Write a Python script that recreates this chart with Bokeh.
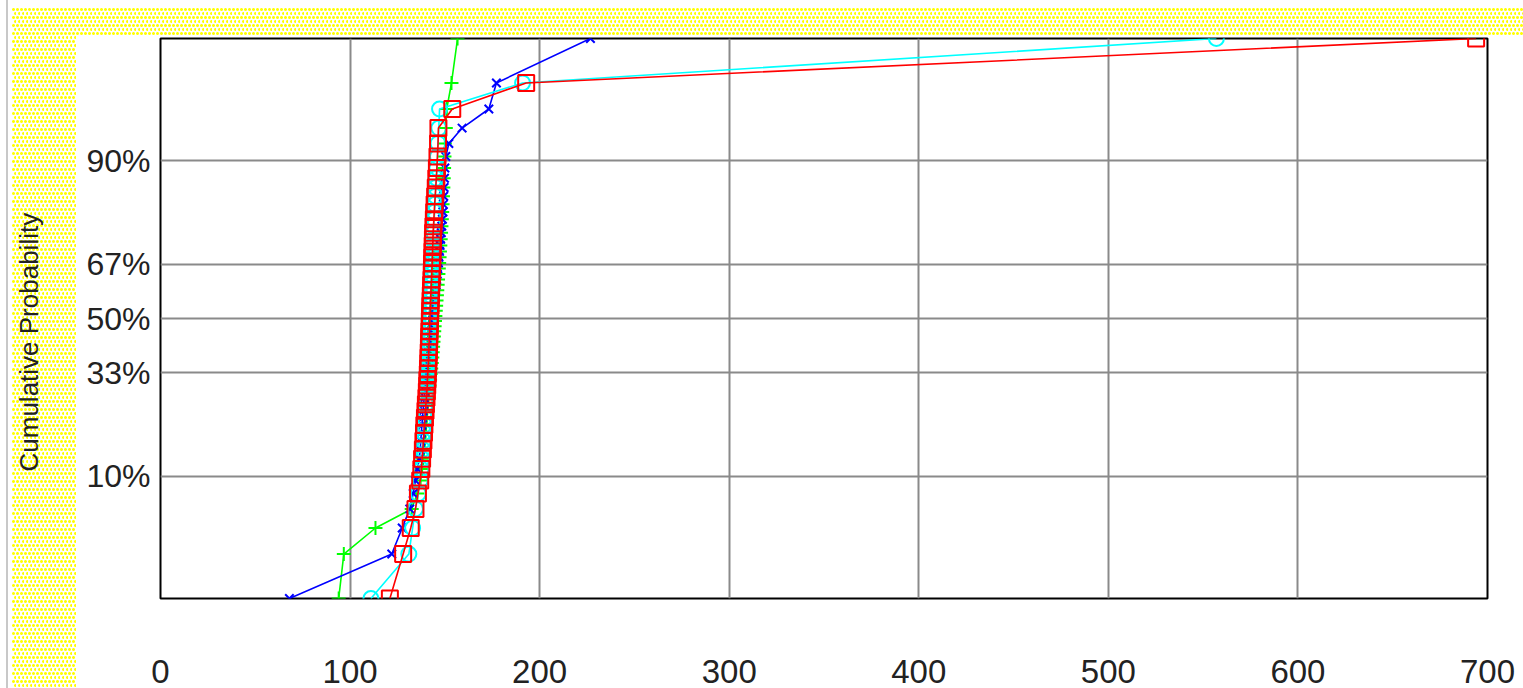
from statistics import NormalDist
from bokeh.plotting import figure
from bokeh.models import Range1d, FixedTicker, Title
from bokeh.embed import file_html
from bokeh.resources import INLINE

# ---- data (sorted sample values per series) ----
green_vals = [94, 96.7, 113.4, 132.5, 135.5, 137.2, 138, 138.6, 139, 139.4,
              139.8, 140.1, 140.4, 140.7, 141, 141.3, 141.6, 141.9, 142.2, 142.5,
              142.8, 143.1, 143.4, 143.6, 143.8, 144, 144.2, 144.4, 144.6, 144.8,
              145, 145.2, 145.4, 145.6, 145.8, 146, 146.2, 146.4, 146.6, 146.8,
              147, 147.2, 147.4, 147.6, 147.8, 148, 148.2, 148.4, 148.6, 148.8,
              149, 149.2, 149.4, 149.6, 149.8, 150, 150.5, 151, 153.5, 156.7]
blue_vals = [68, 122, 127.5, 131.5, 133.3, 134.5, 135.5, 136.5, 137, 137.3,
             137.6, 137.9, 138.2, 138.5, 138.8, 139.1, 139.4, 139.7, 140, 140.3,
             140.6, 140.9, 141.2, 141.5, 141.8, 142.1, 142.4, 142.7, 143, 143.3,
             143.6, 143.9, 144.2, 144.5, 144.8, 145.1, 145.4, 145.7, 146, 146.3,
             146.6, 146.9, 147.2, 147.5, 147.8, 148.1, 148.4, 148.7, 149, 149.2,
             149.4, 149.6, 149.8, 150, 150.5, 152.1, 159.1, 173.2, 177.2, 226.8]
cyan_vals = [111, 131, 133, 134.5, 136, 137, 137.5, 138, 138.3, 138.6,
             138.9, 139.1, 139.4, 139.7, 140, 140.2, 140.4, 140.6, 140.8, 140.9,
             141, 141.2, 141.3, 141.4, 141.5, 141.6, 141.7, 141.8, 141.9, 142,
             142.1, 142.2, 142.3, 142.4, 142.5, 142.5, 142.6, 142.7, 142.8, 143,
             143.1, 143.2, 143.4, 143.6, 143.8, 144, 144.2, 144.4, 144.6, 144.8,
             145, 145.2, 145.5, 145.8, 146.1, 146.4, 146.8, 147.2, 191, 557]
red_vals = [121, 128, 132, 134.5, 135.8, 137, 137.6, 138, 138.4, 138.7,
            139, 139.2, 139.5, 139.8, 140, 140.3, 140.5, 140.7, 140.8, 141,
            141.1, 141.3, 141.4, 141.5, 141.6, 141.7, 141.8, 141.9, 142, 142.1,
            142.2, 142.3, 142.4, 142.5, 142.6, 142.7, 142.8, 143, 143.1, 143.2,
            143.3, 143.4, 143.5, 143.6, 143.7, 143.8, 144, 144.2, 144.4, 144.6,
            144.9, 145.2, 145.5, 145.8, 146.1, 146.4, 146.6, 153.9, 192.9, 694]

x_ticks = [0, 100, 200, 300, 400, 500, 600, 700]
y_tick_probs = [0.10, 0.33, 0.50, 0.67, 0.90]
y_tick_labels = ["10%", "33%", "50%", "67%", "90%"]
y_title = "Cumulative Probability"

nd = NormalDist()


def filliben_z(n):
    """Normal quantiles of Filliben plotting positions for n ranked values."""
    m = [(i - 0.3175) / (n + 0.365) for i in range(1, n + 1)]
    m[-1] = 0.5 ** (1.0 / n)
    m[0] = 1.0 - m[-1]
    return [nd.inv_cdf(v) for v in m]


zmax = filliben_z(len(red_vals))[-1]

# page background: dotted yellow L-shaped strip + thin gray rule at the left
dot = "radial-gradient(circle at {x}px {y}px, #ffff00 0.95px, rgba(255,255,0,0.6) 1.35px, rgba(255,255,0,0) 1.8px)"
bg_layers = [
    ("linear-gradient(#ffffff, #ffffff)", "76px 35px", "100% 100%", "no-repeat"),
    ("linear-gradient(#c8c8c8, #c8c8c8)", "6px 0px", "2px 100%", "no-repeat"),
    ("linear-gradient(#ffffff, #ffffff)", "0px 0px", "12px 100%", "no-repeat"),
    ("linear-gradient(#ffffff, #ffffff)", "0px 0px", "100% 7px", "no-repeat"),
    (dot.format(x=1.5, y=1.5), "0px 0px", "4px 8px", "repeat"),
    (dot.format(x=3.5, y=5.5), "0px 0px", "4px 8px", "repeat"),
]
page_styles = {
    "background-color": "#ffffff",
    "background-image": ", ".join(b[0] for b in bg_layers),
    "background-position": ", ".join(b[1] for b in bg_layers),
    "background-size": ", ".join(b[2] for b in bg_layers),
    "background-repeat": ", ".join(b[3] for b in bg_layers),
}

p = figure(width=1523, height=688, output_backend="svg", toolbar_location=None,
           x_range=Range1d(0, 700), y_range=Range1d(-zmax, zmax),
           min_border_left=160, min_border_right=36, min_border_top=38,
           min_border_bottom=90, title=None, styles=page_styles)
p.background_fill_color = "white"
p.border_fill_alpha = 0
p.outline_line_color = "black"
p.outline_line_width = 2

# ticks and grids
p.xaxis.ticker = FixedTicker(ticks=x_ticks)
y_tick_z = [nd.inv_cdf(v) for v in y_tick_probs]
p.yaxis.ticker = FixedTicker(ticks=y_tick_z)
p.yaxis.major_label_overrides = {z: lab for z, lab in zip(y_tick_z, y_tick_labels)}
for g in (p.xgrid, p.ygrid):
    g.grid_line_color = "#8a8a8a"
    g.grid_line_width = 2

for ax in (p.xaxis, p.yaxis):
    ax.axis_line_color = None
    ax.major_tick_line_color = None
    ax.minor_tick_line_color = None
    ax.major_tick_out = 0
    ax.major_tick_in = 0
    ax.major_label_text_font = "Liberation Sans"
    ax.major_label_text_color = "#222222"

p.xaxis.major_label_text_font_size = "33px"
p.yaxis.major_label_text_font_size = "32px"
p.xaxis.major_label_standoff = 61
p.yaxis.major_label_standoff = 10

# y title: below the frame centre and near the outer edge, as in the original
# (an empty second line keeps the visible line at the outer side of its panel)
p.add_layout(Title(text=y_title + "\n", align="left", offset=127,
                   vertical_align="bottom", standoff=20,
                   text_font="Liberation Sans", text_font_size="26px",
                   text_font_style="normal", text_color="#222222"), "left")

series = [
    (green_vals, "#00ff00", "cross", 14),
    (blue_vals, "#0000ff", "x", 12),
    (cyan_vals, "#00ffff", "circle", 15),
    (red_vals, "#ff0000", "square", 16),
]
for vals, col, mk, sz in series:
    zs = filliben_z(len(vals))
    p.line(vals, zs, line_color=col, line_width=1.6)
    p.scatter(vals, zs, marker=mk, size=sz, line_color=col, fill_color=None,
              line_width=2)

open("out.html", "w").write(file_html(p, INLINE))
